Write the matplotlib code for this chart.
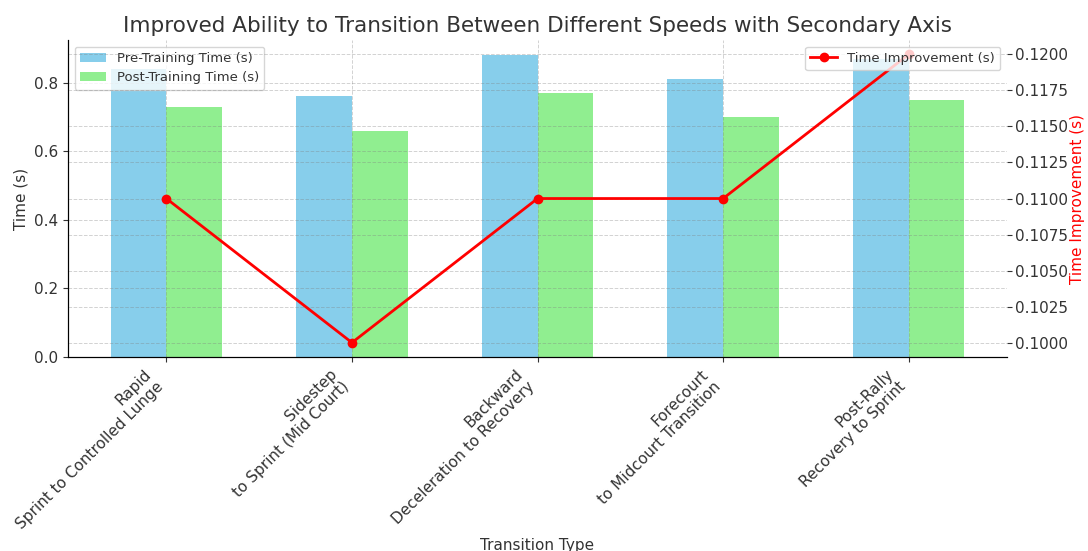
import numpy as np
import matplotlib.pyplot as plt

transitions = [
    "Rapid\nSprint to Controlled Lunge",
    "Sidestep\nto Sprint (Mid Court)",
    "Backward\nDeceleration to Recovery",
    "Forecourt\nto Midcourt Transition",
    "Post-Rally\nRecovery to Sprint",
]
pre_training = [0.84, 0.76, 0.88, 0.81, 0.87]
post_training = [0.73, 0.66, 0.77, 0.70, 0.75]
improvement = [0.11, 0.10, 0.11, 0.11, 0.12]

plt.rcParams["text.color"] = "#333333"
plt.rcParams["axes.labelcolor"] = "#333333"
plt.rcParams["xtick.color"] = "#333333"
plt.rcParams["ytick.color"] = "#333333"

x = np.arange(len(transitions))
width = 0.3

fig, ax1 = plt.subplots(figsize=(10.88, 5.51), dpi=100)
fig.subplots_adjust(left=0.0625, right=0.9256, top=0.9274, bottom=0.352)

ax1.bar(x - width / 2, pre_training, width, label="Pre-Training Time (s)", color="skyblue")
ax1.bar(x + width / 2, post_training, width, label="Post-Training Time (s)", color="lightgreen")
ax1.set_xlabel("Transition Type", fontsize=11)
ax1.set_ylabel("Time (s)", fontsize=11)
ax1.set_xticks(x)
ax1.set_xticklabels(transitions, rotation=45, ha="right", fontsize=11)
ax1.tick_params(axis="y", labelsize=11)
ax1.grid(True, linestyle="--", color="gray", alpha=0.35, linewidth=0.7)
ax1.legend(loc="upper left", fontsize=9.5)

ax2 = ax1.twinx()
ax2.plot(x, improvement, color="red", marker="o", linewidth=2, label="Time Improvement (s)")
ax2.set_ylabel("Time Improvement (s)", color="red", fontsize=11, labelpad=1)
ax2.tick_params(axis="y", labelsize=11, pad=2.5)
ax2.grid(True, axis="y", linestyle="--", color="gray", alpha=0.35, linewidth=0.7)
ax2.legend(loc="upper right", fontsize=9.5)

for ax in (ax1, ax2):
    ax.spines["top"].set_visible(False)
    ax.spines["right"].set_visible(False)

ax1.set_title("Improved Ability to Transition Between Different Speeds with Secondary Axis", fontsize=15.5)

plt.savefig("out.png")
